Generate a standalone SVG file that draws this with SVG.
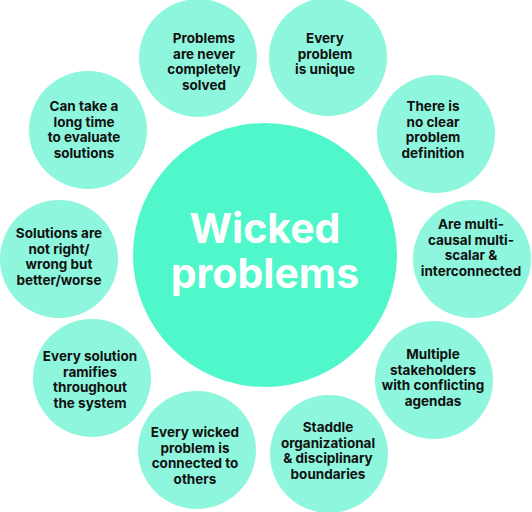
<svg xmlns="http://www.w3.org/2000/svg" width="532" height="512" viewBox="0 0 532 512">
<style>
.bg{fill:#ffffff}
.hub{fill:#50f7cb}
.sat{fill:#8ef6dc}
.t{font-family:Inter,"Open Sans","Liberation Sans",sans-serif;font-weight:700;font-size:13.5px;fill:#111111;text-anchor:middle}
.title{font-family:Inter,"Open Sans","Liberation Sans",sans-serif;font-weight:700;font-size:41px;fill:#ffffff;text-anchor:middle}
</style>
<rect class="bg" x="0" y="0" width="532" height="512"/>
<g id="connectors"></g>
<g id="center">
<circle class="hub" cx="265" cy="255" r="132"/>
<text class="title" x="265" y="243">Wicked</text>
<text class="title" x="265" y="288">problems</text>
</g>
<g id="n1">
<circle class="sat" cx="198" cy="58" r="59"/>
<text class="t"><tspan x="204" y="43">Problems</tspan><tspan x="204" y="58.5">are never</tspan><tspan x="204" y="74">completely</tspan><tspan x="204" y="89.5">solved</tspan></text>
</g>
<g id="n2">
<circle class="sat" cx="328" cy="57" r="59"/>
<text class="t"><tspan x="325" y="43">Every</tspan><tspan x="325" y="58.5">problem</tspan><tspan x="325" y="74">is unique</tspan></text>
</g>
<g id="n3">
<circle class="sat" cx="436" cy="134" r="59"/>
<text class="t"><tspan x="433" y="111">There is</tspan><tspan x="433" y="126.5">no clear</tspan><tspan x="433" y="142">problem</tspan><tspan x="433" y="157.5">definition</tspan></text>
</g>
<g id="n4">
<circle class="sat" cx="472" cy="259" r="59"/>
<text class="t"><tspan x="471" y="229">Are multi-</tspan><tspan x="471" y="244.5">causal multi-</tspan><tspan x="471" y="260">scalar &amp;</tspan><tspan x="471" y="275.5">interconnected</tspan></text>
</g>
<g id="n5">
<circle class="sat" cx="434" cy="380" r="59"/>
<text class="t"><tspan x="433" y="359">Multiple</tspan><tspan x="433" y="374.5">stakeholders</tspan><tspan x="433" y="390">with conflicting</tspan><tspan x="433" y="405.5">agendas</tspan></text>
</g>
<g id="n6">
<circle class="sat" cx="329" cy="454" r="59"/>
<text class="t"><tspan x="328" y="432">Staddle</tspan><tspan x="328" y="447.5">organizational</tspan><tspan x="328" y="463">&amp; disciplinary</tspan><tspan x="328" y="478.5">boundaries</tspan></text>
</g>
<g id="n7">
<circle class="sat" cx="197" cy="450" r="59"/>
<text class="t"><tspan x="195" y="437">Every wicked</tspan><tspan x="195" y="452.5">problem is</tspan><tspan x="195" y="468">connected to</tspan><tspan x="195" y="483.5">others</tspan></text>
</g>
<g id="n8">
<circle class="sat" cx="92" cy="378" r="59"/>
<text class="t"><tspan x="90" y="361">Every solution</tspan><tspan x="90" y="376.5">ramifies</tspan><tspan x="90" y="392">throughout</tspan><tspan x="90" y="407.5">the system</tspan></text>
</g>
<g id="n9">
<circle class="sat" cx="59" cy="259" r="59"/>
<text class="t"><tspan x="59" y="238">Solutions are</tspan><tspan x="59" y="253.5">not right/</tspan><tspan x="59" y="269">wrong but</tspan><tspan x="59" y="284.5">better/worse</tspan></text>
</g>
<g id="n10">
<circle class="sat" cx="88" cy="130" r="59"/>
<text class="t"><tspan x="84" y="111">Can take a</tspan><tspan x="84" y="126.5">long time</tspan><tspan x="84" y="142">to evaluate</tspan><tspan x="84" y="157.5">solutions</tspan></text>
</g>
</svg>
